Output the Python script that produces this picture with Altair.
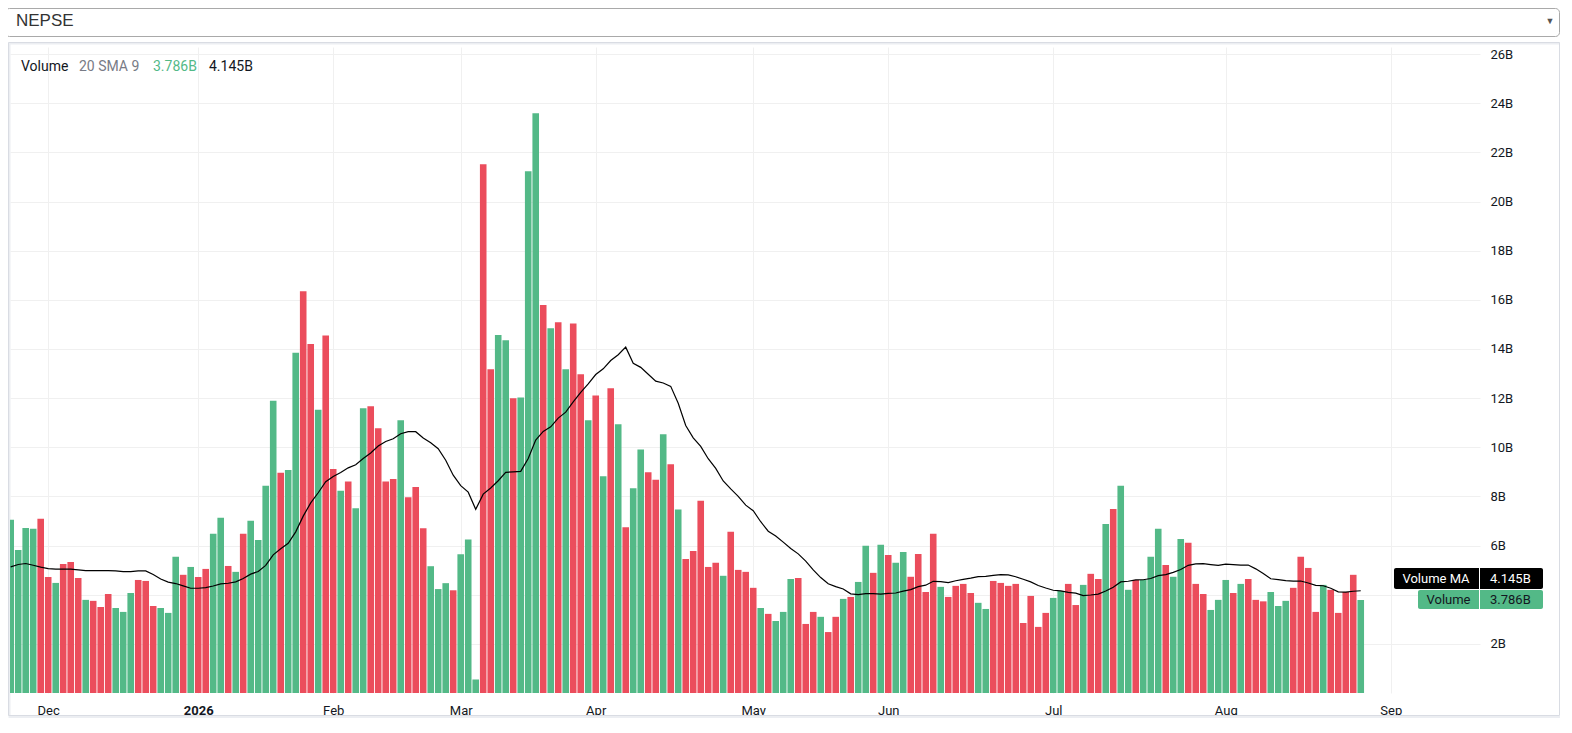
import altair as alt
import pandas as pd

# ---- data (volume in billions) ----
volume = [
    7.05, 5.82, 6.72, 6.68, 7.09, 4.72, 4.48, 5.25, 5.33, 4.68,
    3.79, 3.75, 3.50, 4.03, 3.46, 3.30, 4.07, 4.60, 4.56, 3.54,
    3.46, 3.26, 5.54, 4.81, 5.13, 4.72, 5.05, 6.48, 7.13, 5.17,
    4.93, 6.48, 7.01, 6.23, 8.43, 11.89, 8.96, 9.08, 13.85, 16.35,
    14.20, 11.53, 14.55, 9.12, 8.23, 8.61, 7.52, 11.59, 11.67, 10.77,
    8.61, 8.71, 11.10, 7.97, 8.38, 6.70, 5.16, 4.23, 4.47, 4.18,
    5.65, 6.25, 0.55, 21.52, 13.18, 14.57, 14.36, 12.00, 12.03, 21.23,
    23.59, 15.79, 14.84, 15.09, 13.18, 15.04, 12.97, 11.10, 12.11, 8.82,
    12.40, 10.94, 6.75, 8.33, 9.91, 8.98, 8.68, 10.53, 9.31, 7.47,
    5.45, 5.78, 7.82, 5.13, 5.30, 4.77, 6.56, 5.01, 4.93, 4.28,
    3.46, 3.22, 2.93, 3.30, 4.64, 4.68, 2.81, 3.30, 3.10, 2.48,
    3.10, 3.83, 3.91, 4.52, 5.99, 4.89, 6.03, 5.62, 5.30, 5.74,
    4.73, 5.66, 4.11, 6.48, 4.32, 3.91, 4.36, 4.44, 4.07, 3.67,
    3.42, 4.56, 4.48, 4.36, 4.44, 2.85, 3.95, 2.69, 3.26, 3.87,
    4.15, 4.44, 3.58, 4.40, 4.85, 4.64, 6.88, 7.49, 8.43, 4.20,
    4.60, 4.60, 5.54, 6.68, 5.21, 4.73, 6.27, 6.11, 4.44, 4.03,
    3.38, 3.79, 4.60, 4.07, 4.44, 4.64, 3.79, 3.73, 4.11, 3.54,
    3.75, 4.28, 5.54, 5.09, 3.30, 4.40, 4.20, 3.26, 4.11, 4.81,
    3.786,
]
# 1 = up (green), 0 = down (red)
up = [
    1, 1, 1, 1, 0, 0, 1, 0, 0, 0,
    1, 0, 0, 0, 1, 1, 1, 0, 0, 0,
    1, 1, 1, 0, 1, 0, 0, 1, 1, 0,
    1, 0, 1, 1, 1, 1, 0, 1, 1, 0,
    0, 1, 0, 0, 1, 0, 1, 1, 0, 0,
    0, 0, 1, 0, 0, 0, 1, 1, 1, 0,
    1, 1, 1, 0, 0, 1, 1, 0, 1, 1,
    1, 0, 1, 0, 1, 0, 0, 1, 0, 1,
    0, 1, 0, 1, 1, 0, 0, 1, 0, 1,
    0, 0, 0, 0, 0, 1, 0, 0, 0, 0,
    1, 0, 1, 1, 1, 0, 0, 0, 1, 0,
    0, 1, 0, 1, 1, 0, 1, 0, 1, 1,
    0, 0, 0, 0, 1, 0, 0, 0, 0, 1,
    1, 0, 0, 0, 0, 0, 0, 0, 0, 1,
    1, 0, 0, 1, 0, 0, 1, 0, 1, 1,
    0, 1, 1, 1, 0, 1, 1, 0, 0, 0,
    1, 1, 1, 0, 1, 0, 0, 0, 1, 1,
    1, 0, 0, 0, 0, 1, 0, 0, 0, 0,
    1,
]
# Volume MA (20) for the first bars (needs earlier history)
ma_lead = [5.13, 5.23, 5.27, 5.20, 5.12, 5.06, 5.04, 5.04, 5.04, 5.01,
           4.98, 4.98, 4.98, 4.98, 4.97, 4.94, 4.94, 4.97, 4.97]

month_idx = [6, 26, 44, 61, 79, 100, 118, 140, 163, 185]
month_lbl = ["Dec", "2026", "Feb", "Mar", "Apr", "May", "Jun", "Jul", "Aug", "Sep"]
y_ticks = [2, 4, 6, 8, 10, 12, 14, 16, 18, 20, 22, 24, 26]
y_hidden = 4   # tick label covered by the last-value badges

GREEN = "#53b987"
RED = "#eb4d5c"
DARK = "#131722"
FONT = "Roboto"

n = len(volume)
df = pd.DataFrame({
    "idx": list(range(1, n + 1)),
    "vol": volume,
    "up": up,
    "lead": ma_lead + [None] * (n - len(ma_lead)),
})

x_scale = alt.Scale(domain=[0.907, 196.9], nice=False, zero=False)
y_scale = alt.Scale(domain=[0, 26.29], nice=False)

x_expr = " : ".join(f"datum.value == {i} ? '{l}'" for i, l in zip(month_idx, month_lbl)) + " : ''"
bold_idx = month_idx[month_lbl.index("2026")]

x_axis = alt.Axis(
    values=month_idx, labelExpr=x_expr, grid=True, gridColor="#f0f0f0",
    tickSize=0, domain=False, labelPadding=11, title=None, labelFontSize=13,
    labelColor=DARK, labelFont=FONT, labelOverlap=False, labelFlush=False,
    labelFontWeight={"condition": {"test": f"datum.value == {bold_idx}", "value": "bold"}, "value": "normal"},
)
y_axis = alt.Axis(
    orient="right", values=y_ticks,
    labelExpr=f"datum.value == {y_hidden} ? '' : datum.value + 'B'", grid=True,
    gridColor="#f0f0f0", tickSize=0, domain=False, labelAlign="left",
    labelPadding=10, title=None, labelFontSize=13, labelColor=DARK, labelFont=FONT,
)

base_one = pd.DataFrame({"k": [0]})

# background panel (with a faint shadow) and dropdown
shadow = alt.Chart(base_one).mark_rect(fill="transparent", stroke="#eceef2", strokeWidth=2).encode(
    x=alt.value(-0.5), x2=alt.value(1551), y=alt.value(-3.5), y2=alt.value(670))
panel = alt.Chart(base_one).mark_rect(fill="transparent", stroke="#d9dce3", strokeWidth=1).encode(
    x=alt.value(-1.5), x2=alt.value(1549.5), y=alt.value(-4.5), y2=alt.value(668.5))
dropdown = alt.Chart(base_one).mark_rect(fill="white", stroke="#a9a9a9", strokeWidth=1, cornerRadius=4).encode(
    x=alt.value(-4.5), x2=alt.value(1549.5), y=alt.value(-38.5), y2=alt.value(-10.5))
dd_text = alt.Chart(base_one).mark_text(align="left", baseline="middle", fontSize=17,
                                         font="Liberation Sans", color="#333333").encode(
    x=alt.value(6), y=alt.value(-26), text=alt.value("NEPSE"))
dd_arrow = alt.Chart(base_one).mark_text(align="center", baseline="middle", fontSize=9,
                                          color="#555555").encode(
    x=alt.value(1540), y=alt.value(-26), text=alt.value("▼"))

bars = alt.Chart(df).transform_calculate(
    x0="datum.idx - 0.44", x1="datum.idx + 0.44"
).mark_bar(clip=True).encode(
    x=alt.X("x0:Q", scale=x_scale, axis=x_axis),
    x2="x1:Q",
    y=alt.Y("vol:Q", scale=y_scale, axis=y_axis),
    y2=alt.datum(0),
    color=alt.Color("up:N", scale=alt.Scale(domain=[1, 0], range=[GREEN, RED]), legend=None),
)

line = alt.Chart(df).transform_window(
    sma="mean(vol)", frame=[-19, 0], sort=[alt.SortField("idx")]
).transform_calculate(
    ma="datum.idx < 20 ? datum.lead : datum.sma"
).mark_line(color="#000000", strokeWidth=1.2, clip=True).encode(
    x=alt.X("idx:Q", scale=x_scale, axis=x_axis),
    y=alt.Y("ma:Q", scale=y_scale, axis=y_axis),
)

def txt(s, x, y, color, size=14, align="left", weight="normal"):
    return alt.Chart(base_one).mark_text(align=align, baseline="middle", fontSize=size,
                                         font=FONT, color=color, fontWeight=weight).encode(
        x=alt.value(x), y=alt.value(y), text=alt.value(s))

legend = [
    txt("Volume", 11, 20, DARK),
    txt("20 SMA 9", 69, 20, "#787b86"),
    txt("3.786B", 143, 20, GREEN),
    txt("4.145B", 199, 20, DARK),
]

badge_ma = alt.Chart(base_one).mark_rect(fill="#000000", cornerRadius=2).encode(
    x=alt.value(1384), x2=alt.value(1533), y=alt.value(521), y2=alt.value(542))
badge_ma_div = alt.Chart(base_one).mark_rule(color="white", strokeWidth=1).encode(
    x=alt.value(1469.5), y=alt.value(521), y2=alt.value(542))
badge_v = alt.Chart(base_one).mark_rect(fill=GREEN, cornerRadius=2).encode(
    x=alt.value(1408), x2=alt.value(1533), y=alt.value(543), y2=alt.value(562))
badge_v_div = alt.Chart(base_one).mark_rule(color="white", strokeWidth=1).encode(
    x=alt.value(1469.5), y=alt.value(543), y2=alt.value(562))
badges = [
    badge_ma, badge_ma_div, badge_v, badge_v_div,
    txt("Volume MA", 1426, 531.5, "white", size=13, align="center"),
    txt("4.145B", 1480, 531.5, "white", size=13),
    txt("Volume", 1438.5, 552.5, DARK, size=13, align="center"),
    txt("3.786B", 1480, 552.5, DARK, size=13),
]

chart = alt.layer(
    shadow, panel, dropdown, dd_text, dd_arrow, bars, line, *legend, *badges
).properties(
    width=1470, height=646,
    padding={"left": 2, "top": 39, "right": 80, "bottom": 26},
    autosize=alt.AutoSizeParams(type="none"),
).configure(background="white", font=FONT).configure_view(stroke=None)

chart.save("out.html", embed_options={"renderer": "svg", "actions": False})
